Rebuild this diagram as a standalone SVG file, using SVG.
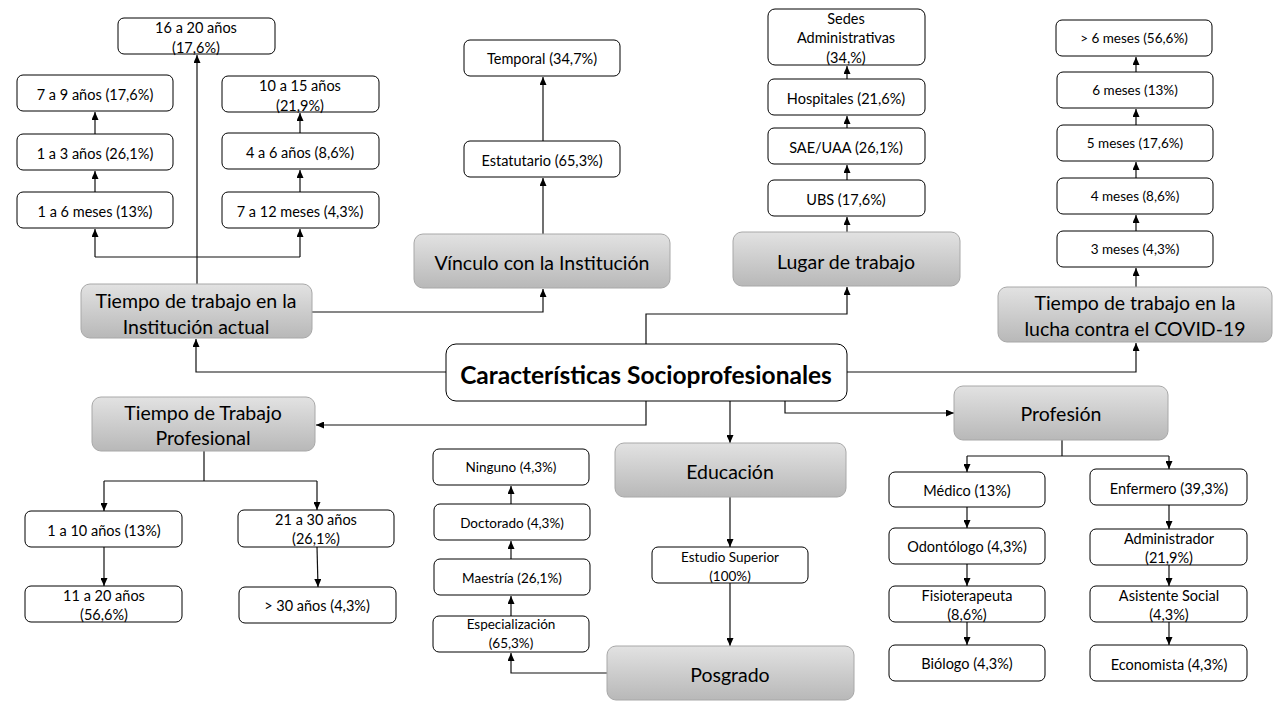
<svg xmlns="http://www.w3.org/2000/svg" width="1280" height="720" viewBox="0 0 1280 720">
<style>
.w{fill:#fff;stroke:#000;stroke-width:1}
.g{fill:url(#gg);stroke:#a8a8a8;stroke-width:1}
text{font-family:Lato,"Open Sans",sans-serif;fill:#000;text-anchor:middle;dominant-baseline:central}
.s{font-size:14.5px}
.xs{font-size:13.5px}
.m{font-size:19.5px}
.c{font-size:24.5px;font-weight:bold}
.ln{fill:none;stroke:#111;stroke-width:1.2}
.a{marker-end:url(#ar)}
</style>
<defs>
<linearGradient id="gg" x1="0" y1="0" x2="0" y2="1">
<stop offset="0" stop-color="#e2e2e2"/>
<stop offset="1" stop-color="#b8b8b8"/>
</linearGradient>
<marker id="ar" markerWidth="8" markerHeight="7" refX="8" refY="3.5" orient="auto" markerUnits="userSpaceOnUse">
<path d="M0,0 L8,3.5 L0,7 z" fill="#000"/>
</marker>
</defs>
<rect width="1280" height="720" fill="#fff"/>

<g id="connectors">
<path class="ln a" d="M197,284 V55"/>
<path class="ln" d="M95,257 H300"/>
<path class="ln a" d="M95,257 V229"/>
<path class="ln a" d="M300,257 V229"/>
<path class="ln a" d="M95,192 V171"/>
<path class="ln a" d="M95,134 V112"/>
<path class="ln a" d="M300,192 V170"/>
<path class="ln a" d="M300,133 V113"/>
<path class="ln a" d="M446,372 H196 V339"/>
<path class="ln a" d="M312,312 H543 V289"/>
<path class="ln a" d="M543,234 V178"/>
<path class="ln a" d="M543,141 V77"/>
<path class="ln a" d="M646,344 V314 H847 V287"/>
<path class="ln a" d="M847,232 V217"/>
<path class="ln a" d="M847,180 V165"/>
<path class="ln a" d="M847,128 V116"/>
<path class="ln a" d="M847,79 V66"/>
<path class="ln a" d="M847,372 H1136 V343"/>
<path class="ln a" d="M1136,287 V268"/>
<path class="ln a" d="M1136,231 V215"/>
<path class="ln a" d="M1136,178 V162"/>
<path class="ln a" d="M1136,125 V109"/>
<path class="ln a" d="M1136,72 V57"/>
<path class="ln a" d="M646,401 V425 H316"/>
<path class="ln a" d="M730,401 V443"/>
<path class="ln a" d="M791,399 H785 V413 H954"/>
<path class="ln a" d="M730,497 V547"/>
<path class="ln a" d="M730,583 V646"/>
<path class="ln a" d="M607,673 H511 V653"/>
<path class="ln a" d="M511,616 V596"/>
<path class="ln a" d="M511,559 V541"/>
<path class="ln a" d="M511,504 V486"/>
<path class="ln" d="M204,451 V481 M104,481 H317"/>
<path class="ln a" d="M104,481 V511"/>
<path class="ln a" d="M317,481 V510"/>
<path class="ln a" d="M104,547 V586"/>
<path class="ln a" d="M317,547 L318,587"/>
<path class="ln" d="M1062,440 V456 M967,456 H1169"/>
<path class="ln a" d="M967,456 V472"/>
<path class="ln a" d="M1169,456 V469"/>
<path class="ln a" d="M967,507 V528"/>
<path class="ln a" d="M967,564 V586"/>
<path class="ln a" d="M967,622 V645"/>
<path class="ln a" d="M1169,505 V529"/>
<path class="ln a" d="M1169,565 V586"/>
<path class="ln a" d="M1169,622 V645"/>
</g>

<g id="center"><rect class="w" x="446" y="344" width="401" height="57" rx="10"/><text class="c" x="646" y="374">Características Socioprofesionales</text></g>

<g id="tiempo-inst"><rect class="g" x="81" y="284" width="231" height="54" rx="9"/><text class="m" x="196" y="300">Tiempo de trabajo en la</text><text class="m" x="196" y="326">Institución actual</text></g>
<g id="t16"><rect class="w" x="118" y="18" width="157" height="36" rx="6"/><text class="s" x="196" y="27">16 a 20 años</text><text class="s" x="196" y="47">(17,6%)</text></g>
<g id="t7a9"><rect class="w" x="17" y="75" width="156" height="36" rx="6"/><text class="s" x="95" y="94">7 a 9 años (17,6%)</text></g>
<g id="t1a3"><rect class="w" x="17" y="134" width="156" height="36" rx="6"/><text class="s" x="95" y="153">1 a 3 años (26,1%)</text></g>
<g id="t1a6m"><rect class="w" x="17" y="192" width="156" height="36" rx="6"/><text class="s" x="95" y="211">1 a 6 meses (13%)</text></g>
<g id="t10a15"><rect class="w" x="222" y="76" width="157" height="36" rx="6"/><text class="s" x="300" y="85">10 a 15 años</text><text class="s" x="300" y="105">(21,9%)</text></g>
<g id="t4a6"><rect class="w" x="222" y="133" width="157" height="36" rx="6"/><text class="s" x="300" y="152">4 a 6 años (8,6%)</text></g>
<g id="t7a12m"><rect class="w" x="222" y="192" width="157" height="36" rx="6"/><text class="s" x="300" y="211">7 a 12 meses (4,3%)</text></g>

<g id="vinculo"><rect class="g" x="414" y="234" width="256" height="54" rx="9"/><text class="m" x="542" y="262">Vínculo con la Institución</text></g>
<g id="temporal"><rect class="w" x="464" y="40" width="156" height="36" rx="6"/><text class="s" x="542" y="58">Temporal (34,7%)</text></g>
<g id="estatutario"><rect class="w" x="464" y="141" width="156" height="36" rx="6"/><text class="s" x="542" y="160">Estatutario (65,3%)</text></g>

<g id="lugar"><rect class="g" x="733" y="232" width="227" height="54" rx="9"/><text class="m" x="846" y="261">Lugar de trabajo</text></g>
<g id="sedes"><rect class="w" x="768" y="9" width="157" height="56" rx="7"/><text class="s" x="846" y="18">Sedes</text><text class="s" x="846" y="37">Administrativas</text><text class="s" x="846" y="57">(34,%)</text></g>
<g id="hospitales"><rect class="w" x="768" y="79" width="157" height="36" rx="6"/><text class="s" x="846" y="98">Hospitales (21,6%)</text></g>
<g id="sae"><rect class="w" x="768" y="128" width="157" height="36" rx="6"/><text class="s" x="846" y="147">SAE/UAA (26,1%)</text></g>
<g id="ubs"><rect class="w" x="768" y="180" width="157" height="36" rx="6"/><text class="s" x="846" y="199">UBS (17,6%)</text></g>

<g id="covid"><rect class="g" x="998" y="287" width="274" height="55" rx="9"/><text class="m" x="1135" y="302">Tiempo de trabajo en la</text><text class="m" x="1135" y="328">lucha contra el COVID-19</text></g>
<g id="c6p"><rect class="w" x="1056" y="20" width="156" height="36" rx="6"/><text class="xs" x="1134" y="38">&gt; 6 meses (56,6%)</text></g>
<g id="c6"><rect class="w" x="1057" y="72" width="156" height="36" rx="6"/><text class="xs" x="1135" y="90">6 meses (13%)</text></g>
<g id="c5"><rect class="w" x="1057" y="125" width="156" height="36" rx="6"/><text class="xs" x="1135" y="143">5 meses (17,6%)</text></g>
<g id="c4"><rect class="w" x="1057" y="178" width="156" height="36" rx="6"/><text class="xs" x="1135" y="196">4 meses (8,6%)</text></g>
<g id="c3"><rect class="w" x="1057" y="231" width="156" height="36" rx="6"/><text class="xs" x="1135" y="249">3 meses (4,3%)</text></g>

<g id="ttp"><rect class="g" x="92" y="397" width="223" height="54" rx="9"/><text class="m" x="203" y="412">Tiempo de Trabajo</text><text class="m" x="203" y="437">Profesional</text></g>
<g id="p1a10"><rect class="w" x="25" y="511" width="157" height="36" rx="6"/><text class="s" x="104" y="530">1 a 10 años (13%)</text></g>
<g id="p11a20"><rect class="w" x="25" y="586" width="157" height="36" rx="6"/><text class="s" x="104" y="595">11 a 20 años</text><text class="s" x="104" y="614">(56,6%)</text></g>
<g id="p21a30"><rect class="w" x="238" y="510" width="156" height="37" rx="6"/><text class="s" x="316" y="519">21 a 30 años</text><text class="s" x="316" y="538">(26,1%)</text></g>
<g id="p30"><rect class="w" x="239" y="587" width="157" height="36" rx="6"/><text class="s" x="317" y="605">&gt; 30 años (4,3%)</text></g>

<g id="educacion"><rect class="g" x="615" y="443" width="231" height="54" rx="9"/><text class="m" x="730" y="471">Educación</text></g>
<g id="superior"><rect class="w" x="652" y="547" width="156" height="36" rx="6"/><text class="xs" x="730" y="557">Estudio Superior</text><text class="xs" x="730" y="576">(100%)</text></g>
<g id="posgrado"><rect class="g" x="607" y="646" width="247" height="54" rx="9"/><text class="m" x="730" y="674">Posgrado</text></g>
<g id="especializacion"><rect class="w" x="433" y="616" width="156" height="36" rx="6"/><text class="xs" x="511" y="624">Especialización</text><text class="xs" x="511" y="643">(65,3%)</text></g>
<g id="maestria"><rect class="w" x="434" y="559" width="156" height="36" rx="6"/><text class="xs" x="512" y="578">Maestría (26,1%)</text></g>
<g id="doctorado"><rect class="w" x="434" y="504" width="156" height="36" rx="6"/><text class="xs" x="512" y="523">Doctorado (4,3%)</text></g>
<g id="ninguno"><rect class="w" x="433" y="449" width="156" height="36" rx="6"/><text class="xs" x="511" y="467">Ninguno (4,3%)</text></g>

<g id="profesion"><rect class="g" x="954" y="386" width="214" height="54" rx="9"/><text class="m" x="1061" y="413">Profesión</text></g>
<g id="medico"><rect class="w" x="889" y="472" width="156" height="35" rx="6"/><text class="s" x="967" y="490">Médico (13%)</text></g>
<g id="odontologo"><rect class="w" x="889" y="528" width="156" height="36" rx="6"/><text class="s" x="967" y="546">Odontólogo (4,3%)</text></g>
<g id="fisio"><rect class="w" x="889" y="586" width="156" height="36" rx="6"/><text class="s" x="967" y="595">Fisioterapeuta</text><text class="s" x="967" y="614">(8,6%)</text></g>
<g id="biologo"><rect class="w" x="889" y="645" width="156" height="36" rx="6"/><text class="s" x="967" y="663">Biólogo (4,3%)</text></g>
<g id="enfermero"><rect class="w" x="1090" y="469" width="157" height="36" rx="6"/><text class="s" x="1169" y="488">Enfermero (39,3%)</text></g>
<g id="administrador"><rect class="w" x="1090" y="529" width="157" height="36" rx="6"/><text class="s" x="1169" y="538">Administrador</text><text class="s" x="1169" y="557">(21,9%)</text></g>
<g id="asistente"><rect class="w" x="1090" y="586" width="157" height="36" rx="6"/><text class="s" x="1169" y="595">Asistente Social</text><text class="s" x="1169" y="614">(4,3%)</text></g>
<g id="economista"><rect class="w" x="1090" y="645" width="157" height="36" rx="6"/><text class="s" x="1169" y="664">Economista (4,3%)</text></g>
</svg>
